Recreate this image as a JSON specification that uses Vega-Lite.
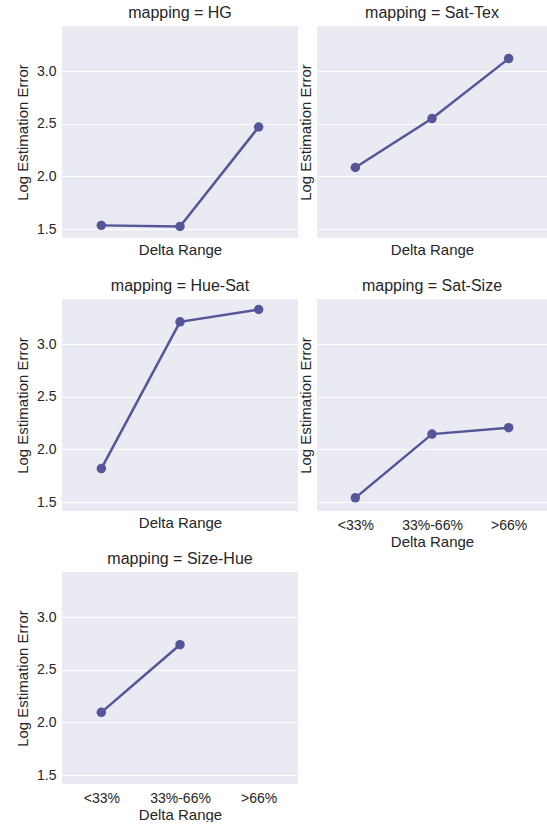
{
  "$schema": "https://vega.github.io/schema/vega-lite/v6.json",
  "padding": {"left": 15, "top": 5, "right": 0, "bottom": 0},
  "background": "white",
  "datasets": {
    "d": [
      {"mapping": "HG", "delta": "<33%", "err": 1.535},
      {"mapping": "HG", "delta": "33%-66%", "err": 1.525},
      {"mapping": "HG", "delta": ">66%", "err": 2.47},
      {"mapping": "Sat-Tex", "delta": "<33%", "err": 2.085},
      {"mapping": "Sat-Tex", "delta": "33%-66%", "err": 2.55},
      {"mapping": "Sat-Tex", "delta": ">66%", "err": 3.12},
      {"mapping": "Hue-Sat", "delta": "<33%", "err": 1.818},
      {"mapping": "Hue-Sat", "delta": "33%-66%", "err": 3.213},
      {"mapping": "Hue-Sat", "delta": ">66%", "err": 3.33},
      {"mapping": "Sat-Size", "delta": "<33%", "err": 1.54},
      {"mapping": "Sat-Size", "delta": "33%-66%", "err": 2.146},
      {"mapping": "Sat-Size", "delta": ">66%", "err": 2.207},
      {"mapping": "Size-Hue", "delta": "<33%", "err": 2.096},
      {"mapping": "Size-Hue", "delta": "33%-66%", "err": 2.739}
    ]
  },
  "config": {
    "font": "Liberation Sans",
    "view": {"fill": "#EAEAF2", "stroke": null},
    "axis": {
      "domain": false,
      "ticks": false,
      "gridColor": "white",
      "gridWidth": 1,
      "labelColor": "#262626",
      "titleColor": "#262626",
      "labelFont": "Liberation Sans",
      "titleFont": "Liberation Sans",
      "labelFontSize": 14,
      "titleFontSize": 15,
      "titleFontWeight": "normal"
    },
    "axisX": {"grid": false},
    "title": {"font": "Liberation Sans", "fontSize": 16, "fontWeight": "normal", "color": "#262626", "offset": 5}
  },
  "spacing": 2,
  "vconcat": [
    {
      "spacing": 21,
      "vconcat": [
        {
          "spacing": 0,
          "hconcat": [
            {
              "title": "mapping = HG",
              "width": 236, "height": 212,
              "data": {"name": "d"},
              "transform": [{"filter": {"field": "mapping", "equal": "HG"}}],
              "encoding": {
                "x": {"field": "delta", "type": "ordinal", "scale": {"type": "point", "domain": ["<33%", "33%-66%", ">66%"], "padding": 0.5}, "axis": {"title": "Delta Range", "labels": false, "titlePadding": 4}},
                "y": {"field": "err", "type": "quantitative", "scale": {"domain": [1.415, 3.43], "nice": false, "zero": false}, "axis": {"title": "Log Estimation Error", "values": [1.5, 2.0, 2.5, 3.0], "format": ".1f", "labelPadding": 6, "titlePadding": 6}}
              },
              "layer": [
                {"mark": {"type": "line", "color": "#55559a", "strokeWidth": 2.5}},
                {"mark": {"type": "point", "filled": true, "color": "#55559a", "opacity": 1, "size": 90}}
              ]
            },
            {
              "title": "mapping = Sat-Tex",
              "width": 230, "height": 212,
              "data": {"name": "d"},
              "transform": [{"filter": {"field": "mapping", "equal": "Sat-Tex"}}],
              "encoding": {
                "x": {"field": "delta", "type": "ordinal", "scale": {"type": "point", "domain": ["<33%", "33%-66%", ">66%"], "padding": 0.5}, "axis": {"title": "Delta Range", "labels": false, "titlePadding": 4}},
                "y": {"field": "err", "type": "quantitative", "scale": {"domain": [1.415, 3.43], "nice": false, "zero": false}, "axis": {"title": "Log Estimation Error", "values": [1.5, 2.0, 2.5, 3.0], "labels": false, "titlePadding": 4}}
              },
              "layer": [
                {"mark": {"type": "line", "color": "#55559a", "strokeWidth": 2.5}},
                {"mark": {"type": "point", "filled": true, "color": "#55559a", "opacity": 1, "size": 90}}
              ]
            }
          ]
        },
        {
          "spacing": 0,
          "hconcat": [
            {
              "title": "mapping = Hue-Sat",
              "width": 236, "height": 212,
              "data": {"name": "d"},
              "transform": [{"filter": {"field": "mapping", "equal": "Hue-Sat"}}],
              "encoding": {
                "x": {"field": "delta", "type": "ordinal", "scale": {"type": "point", "domain": ["<33%", "33%-66%", ">66%"], "padding": 0.5}, "axis": {"title": "Delta Range", "labels": false, "titlePadding": 4}},
                "y": {"field": "err", "type": "quantitative", "scale": {"domain": [1.415, 3.43], "nice": false, "zero": false}, "axis": {"title": "Log Estimation Error", "values": [1.5, 2.0, 2.5, 3.0], "format": ".1f", "labelPadding": 6, "titlePadding": 6}}
              },
              "layer": [
                {"mark": {"type": "line", "color": "#55559a", "strokeWidth": 2.5}},
                {"mark": {"type": "point", "filled": true, "color": "#55559a", "opacity": 1, "size": 90}}
              ]
            },
            {
              "title": "mapping = Sat-Size",
              "width": 230, "height": 212,
              "data": {"name": "d"},
              "transform": [{"filter": {"field": "mapping", "equal": "Sat-Size"}}],
              "encoding": {
                "x": {"field": "delta", "type": "ordinal", "scale": {"type": "point", "domain": ["<33%", "33%-66%", ">66%"], "padding": 0.5}, "axis": {"title": "Delta Range", "labelAngle": 0, "labelPadding": 7, "titlePadding": 2}},
                "y": {"field": "err", "type": "quantitative", "scale": {"domain": [1.415, 3.43], "nice": false, "zero": false}, "axis": {"title": "Log Estimation Error", "values": [1.5, 2.0, 2.5, 3.0], "labels": false, "titlePadding": 4}}
              },
              "layer": [
                {"mark": {"type": "line", "color": "#55559a", "strokeWidth": 2.5}},
                {"mark": {"type": "point", "filled": true, "color": "#55559a", "opacity": 1, "size": 90}}
              ]
            }
          ]
        }
      ]
    },
    {
      "spacing": 0,
      "hconcat": [
        {
          "title": "mapping = Size-Hue",
          "width": 236, "height": 212,
          "data": {"name": "d"},
          "transform": [{"filter": {"field": "mapping", "equal": "Size-Hue"}}],
          "encoding": {
            "x": {"field": "delta", "type": "ordinal", "scale": {"type": "point", "domain": ["<33%", "33%-66%", ">66%"], "padding": 0.5}, "axis": {"title": "Delta Range", "labelAngle": 0, "labelPadding": 7, "titlePadding": 2}},
            "y": {"field": "err", "type": "quantitative", "scale": {"domain": [1.415, 3.43], "nice": false, "zero": false}, "axis": {"title": "Log Estimation Error", "values": [1.5, 2.0, 2.5, 3.0], "format": ".1f", "labelPadding": 6, "titlePadding": 6}}
          },
          "layer": [
            {"mark": {"type": "line", "color": "#55559a", "strokeWidth": 2.5}},
            {"mark": {"type": "point", "filled": true, "color": "#55559a", "opacity": 1, "size": 90}}
          ]
        }
      ]
    }
  ]
}
